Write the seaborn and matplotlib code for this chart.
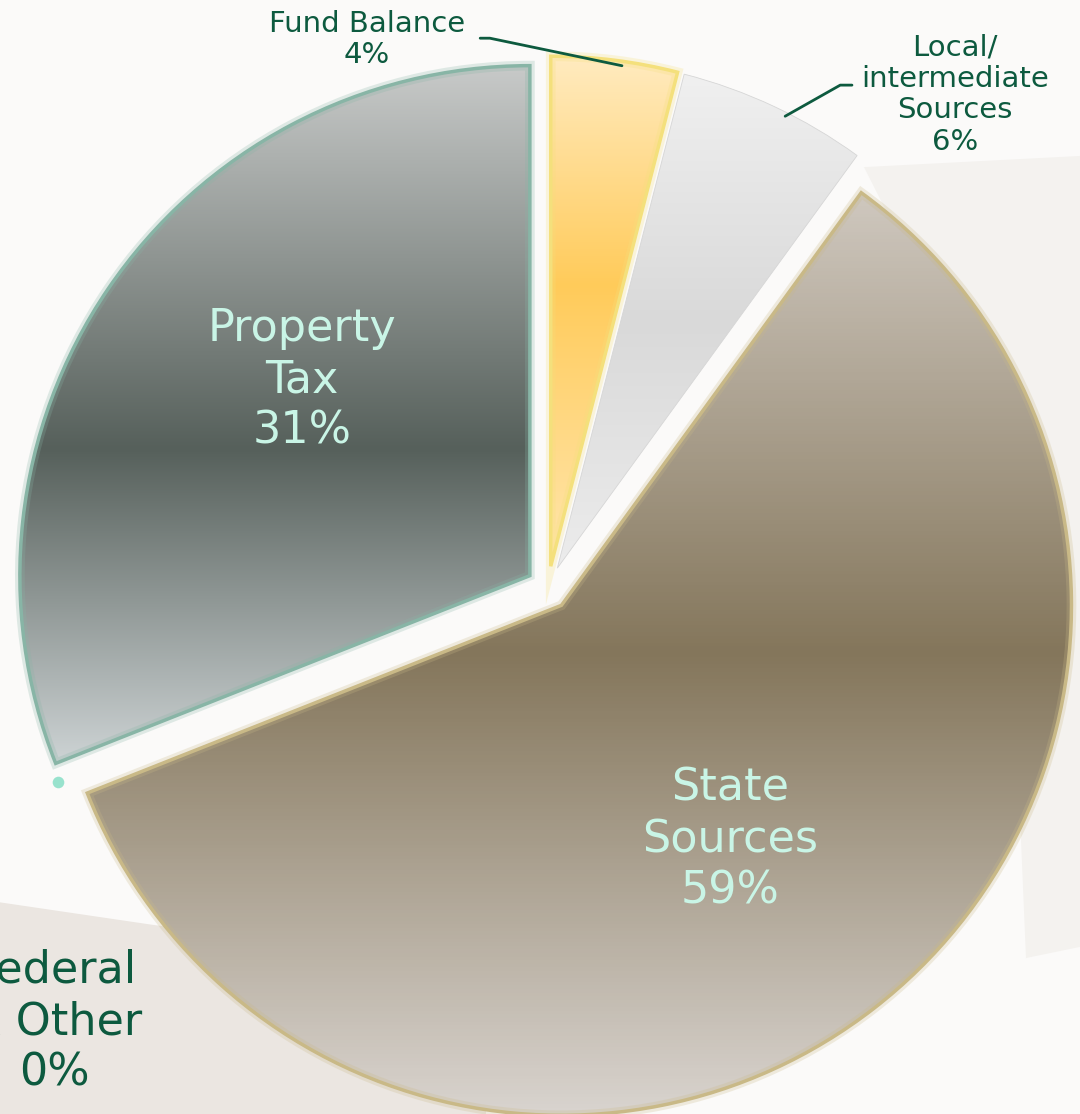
import numpy as np
import matplotlib
matplotlib.use("Agg")
import matplotlib.pyplot as plt
import matplotlib.patheffects as pe
from matplotlib.colors import LinearSegmentedColormap
from matplotlib.patches import Polygon
import seaborn as sns

# data, clockwise from 12 o'clock
sources = ["Fund Balance", "Local/\nintermediate\nSources", "State\nSources",
           "Federal\n& Other", "Property\nTax"]
shares = [4, 6, 59, 0, 31]
pct_labels = ["4%", "6%", "59%", "0%", "31%"]

sns.set_theme(style="white")
plt.rcParams['font.family'] = ['DejaVu Sans']

# gradient stops (top, middle, bottom) and edge colour per slice
grads = [["#ffebc0", "#ffcb5a", "#ffe6ad"],
         ["#f0f0f0", "#d9d9d9", "#ececec"],
         ["#cfc8bf", "#84765b", "#d9d4cf"],
         ["#88b5a6", "#88b5a6", "#88b5a6"],
         ["#c8cac9", "#56605b", "#cdd3d4"]]
mids = [0.45, 0.5, 0.5, 0.5, 0.55]
edges = ["#f4e07c", "#d6d6d6", "#c9b987", "#88b5a6", "#88b5a6"]

fig = plt.figure(figsize=(10.8, 11.14), dpi=100)
fig.patch.set_facecolor("#fbfaf9")
ax = fig.add_axes([0, 0, 1, 1])
ax.set_facecolor("#fbfaf9")

# faint background shapes
ax.add_patch(Polygon([[0, 0], [0, 0.19], [0.14, 0.17], [0.45, 0.13], [0.45, 0]],
                     closed=True, transform=ax.transAxes, fc="#ebe6e1", ec="none", zorder=0))
ax.add_patch(Polygon([[0.8, 0.85], [1, 0.86], [1, 0.15], [0.95, 0.14], [0.93, 0.6]],
                     closed=True, transform=ax.transAxes, fc="#f4f2ef", ec="none", zorder=0))

wedges, _ = ax.pie(shares, startangle=90, counterclock=False, radius=1,
                   explode=[0.043] * len(shares),
                   wedgeprops=dict(linewidth=0))

grad = np.linspace(0, 1, 256).reshape(-1, 1)
for i, w in enumerate(wedges):
    if shares[i] == 0:
        # zero slice only shows as a small glow dot at its rim
        ang = np.deg2rad(w.theta1)
        cx, cy = w.center
        ax.scatter([cx + 0.99 * np.cos(ang)], [cy + 0.99 * np.sin(ang)],
                   s=70, color="#7fdcc3", alpha=0.8, zorder=4, linewidths=0)
        w.set_visible(False)
        continue
    cmap = LinearSegmentedColormap.from_list(
        "g%d" % i, [(0, grads[i][0]), (mids[i], grads[i][1]), (1, grads[i][2])])
    ext = w.get_path().get_extents()
    im = ax.imshow(grad, cmap=cmap, aspect="auto", origin="upper",
                   extent=[ext.x0, ext.x1, ext.y0, ext.y1], zorder=2)
    im.set_clip_path(w)
    w.set_facecolor("none")
    w.set_edgecolor(edges[i])
    w.set_linewidth(2.5 if i != 1 else 0.6)
    w.set_zorder(3)
    if i != 1:
        w.set_path_effects([pe.Stroke(linewidth=7, foreground=edges[i], alpha=0.25),
                            pe.Normal()])

# labels inside the big slices
inner = "#c9f5e6"
outer = "#0d5a3f"
ax.text(-0.482, 0.408, sources[4] + "\n" + pct_labels[4], ha="center", va="center",
        fontsize=32, color=inner, linespacing=1.25, zorder=5)
ax.text(0.357, -0.494, sources[2] + "\n" + pct_labels[2], ha="center", va="center",
        fontsize=32, color=inner, linespacing=1.25, zorder=5)
ax.text(-0.967, -0.851, sources[3] + "\n" + pct_labels[3], ha="center", va="center",
        fontsize=32, color=outer, linespacing=1.25, zorder=5)

# outside labels with leader lines
ax.text(-0.355, 1.075, sources[0] + "\n" + pct_labels[0], ha="center", va="center",
        fontsize=21, color=outer, linespacing=1.15, zorder=5)
ax.plot([-0.133, -0.114, 0.145], [1.078, 1.078, 1.024], color=outer, lw=2, zorder=5)
ax.text(0.798, 0.967, sources[1] + "\n" + pct_labels[1], ha="center", va="center",
        fontsize=21, color=outer, linespacing=1.15, zorder=5)
ax.plot([0.596, 0.573, 0.465], [0.986, 0.986, 0.925], color=outer, lw=2, zorder=5)

ax.set_xlim(-1.0745, 1.0431)
ax.set_ylim(-1.0314, 1.1529)
ax.set_aspect("equal")
ax.axis("off")

fig.savefig("out.png", dpi=100, facecolor=fig.get_facecolor())
